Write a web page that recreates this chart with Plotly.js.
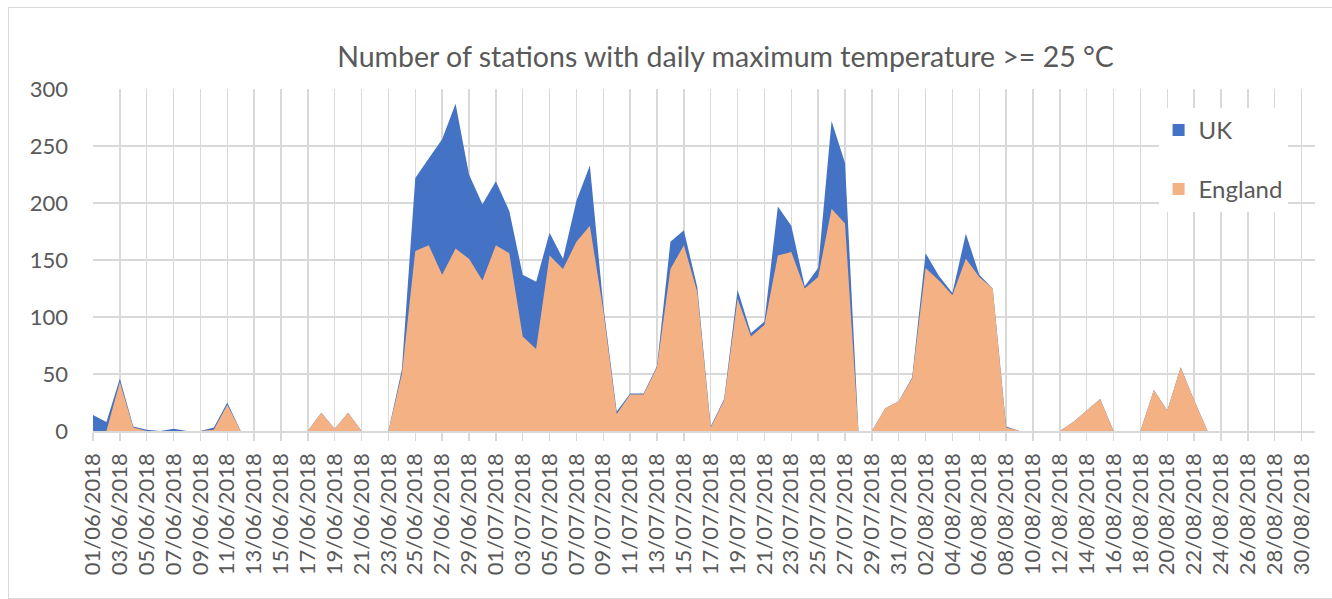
<!DOCTYPE html>
<html>
<head>
<meta charset="utf-8">
<script src="https://cdn.plot.ly/plotly-3.0.1.min.js"></script>
<style>
  html, body { margin: 0; padding: 0; background: #ffffff; overflow: hidden; }
  #wrap { position: relative; width: 1332px; height: 599px; }
  #chart { position: absolute; left: 0; top: 0; width: 1332px; height: 599px; }
  #frame { position: absolute; left: 8px; top: 7px; width: 1340px; height: 590px;
           border: 1.5px solid #d9d9d9; pointer-events: none; }
</style>
</head>
<body>
<div id="wrap">
  <div id="chart"></div>
  <div id="frame"></div>
</div>
<script>
const dates = [
  "01/06/2018","02/06/2018","03/06/2018","04/06/2018","05/06/2018","06/06/2018","07/06/2018","08/06/2018","09/06/2018","10/06/2018",
  "11/06/2018","12/06/2018","13/06/2018","14/06/2018","15/06/2018","16/06/2018","17/06/2018","18/06/2018","19/06/2018","20/06/2018",
  "21/06/2018","22/06/2018","23/06/2018","24/06/2018","25/06/2018","26/06/2018","27/06/2018","28/06/2018","29/06/2018","30/06/2018",
  "01/07/2018","02/07/2018","03/07/2018","04/07/2018","05/07/2018","06/07/2018","07/07/2018","08/07/2018","09/07/2018","10/07/2018",
  "11/07/2018","12/07/2018","13/07/2018","14/07/2018","15/07/2018","16/07/2018","17/07/2018","18/07/2018","19/07/2018","20/07/2018",
  "21/07/2018","22/07/2018","23/07/2018","24/07/2018","25/07/2018","26/07/2018","27/07/2018","28/07/2018","29/07/2018","30/07/2018",
  "31/07/2018","01/08/2018","02/08/2018","03/08/2018","04/08/2018","05/08/2018","06/08/2018","07/08/2018","08/08/2018","09/08/2018",
  "10/08/2018","11/08/2018","12/08/2018","13/08/2018","14/08/2018","15/08/2018","16/08/2018","17/08/2018","18/08/2018","19/08/2018",
  "20/08/2018","21/08/2018","22/08/2018","23/08/2018","24/08/2018","25/08/2018","26/08/2018","27/08/2018","28/08/2018","29/08/2018",
  "30/08/2018","31/08/2018"
];

const ukStations = [
  14, 8, 46, 4, 1, 0, 2, 0, 0, 3,
  25, 0, 0, 0, 0, 0, 0, 16, 2, 16,
  0, 0, 0, 54, 222, 239, 256, 287, 225, 199,
  219, 193, 137, 131, 174, 151, 202, 233, 110, 17,
  33, 33, 57, 166, 176, 126, 4, 28, 124, 86,
  96, 197, 180, 127, 143, 272, 235, 0, 0, 20,
  26, 47, 156, 136, 121, 173, 137, 125, 4, 0,
  0, 0, 0, 8, 18, 28, 0, 0, 0, 36,
  18, 56, 27, 0, 0, 0, 0, 0, 0, 0,
  0, 0
];

const englandStations = [
  0, 0, 43, 3, 0, 0, 0, 0, 0, 1,
  23, 0, 0, 0, 0, 0, 0, 16, 2, 16,
  0, 0, 0, 50, 158, 163, 137, 160, 151, 132,
  163, 156, 83, 72, 154, 142, 166, 180, 106, 15,
  32, 32, 56, 142, 163, 122, 3, 27, 116, 83,
  93, 154, 157, 125, 135, 195, 182, 0, 0, 20,
  26, 46, 143, 132, 119, 151, 135, 125, 3, 0,
  0, 0, 0, 8, 18, 28, 0, 0, 0, 36,
  18, 56, 27, 0, 0, 0, 0, 0, 0, 0,
  0, 0
];

const seriesNames = ["UK", "England"];
const titleText = "Number of stations with daily maximum temperature >= 25 °C";

const UK_COLOR = "#4472C4";
const ENG_COLOR = "#F4B183";
const TEXT_COLOR = "#595959";
const GRID_COLOR = "#d9d9d9";
const FONT = "Lato, 'Liberation Sans', Arial, sans-serif";

const traces = [
  { type: "scatter", x: dates, y: ukStations, name: seriesNames[0], mode: "none",
    fill: "tozeroy", fillcolor: UK_COLOR, showlegend: false, legendgroup: "uk" },
  { type: "scatter", x: dates, y: englandStations, name: seriesNames[1], mode: "none",
    fill: "tozeroy", fillcolor: ENG_COLOR, showlegend: false, legendgroup: "eng" },
  { type: "bar", x: [null], y: [null], name: seriesNames[0], marker: { color: UK_COLOR },
    showlegend: true, legendgroup: "uk", hoverinfo: "skip" },
  { type: "bar", x: [null], y: [null], name: seriesNames[1], marker: { color: ENG_COLOR },
    showlegend: true, legendgroup: "eng", hoverinfo: "skip" }
];

const layout = {
  width: 1332, height: 599,
  paper_bgcolor: "rgba(0,0,0,0)", plot_bgcolor: "#ffffff",
  margin: { l: 93, r: 17, t: 89, b: 168, pad: 0 },
  font: { family: FONT, color: TEXT_COLOR, size: 22 },
  title: { text: titleText, x: 0.5447, xref: "container", xanchor: "center",
           y: 0.905, yref: "container", yanchor: "middle",
           font: { family: FONT, size: 28.5, color: TEXT_COLOR } },
  showlegend: true,
  legend: { x: 0.872, y: 0.945, xanchor: "left", yanchor: "top", bgcolor: "#ffffff",
            borderwidth: 0, traceorder: "grouped", tracegroupgap: 25,
            font: { family: FONT, size: 24, color: TEXT_COLOR } },
  xaxis: { type: "category", range: [0, 91], tickmode: "linear", tick0: 0, dtick: 2,
           tickangle: -90, showgrid: true, gridcolor: GRID_COLOR, gridwidth: 1.5,
           ticks: "outside", ticklen: 8, tickcolor: GRID_COLOR, tickwidth: 1.5,
           showline: true, linecolor: GRID_COLOR, linewidth: 1.5, zeroline: false,
           ticklabelstandoff: 4,
           tickfont: { family: FONT, size: 22, color: TEXT_COLOR }, fixedrange: true },
  yaxis: { range: [0, 300], tickmode: "linear", tick0: 0, dtick: 50,
           showgrid: true, gridcolor: GRID_COLOR, gridwidth: 1.5, zeroline: false,
           showline: false, ticks: "", ticklabelstandoff: 24,
           tickfont: { family: FONT, size: 22, color: TEXT_COLOR }, fixedrange: true },
  hovermode: false
};

Plotly.newPlot("chart", traces, layout, { displayModeBar: false, staticPlot: true });
</script>
</body>
</html>
